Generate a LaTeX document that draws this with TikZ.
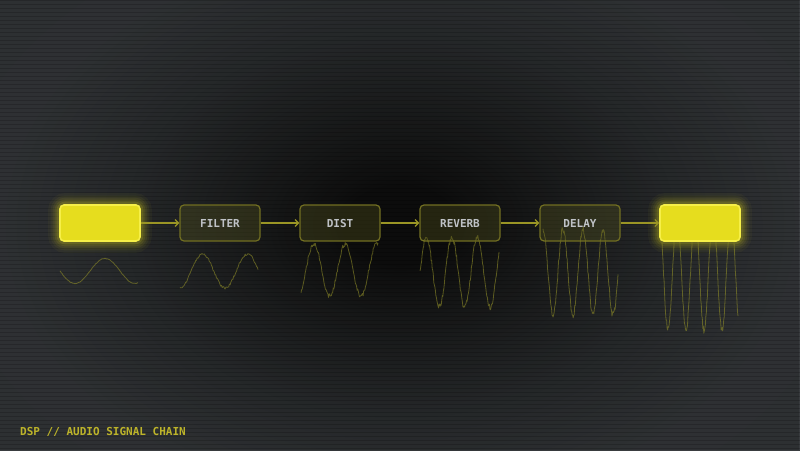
\documentclass[tikz,border=0pt]{standalone}
\usepackage{fontspec}
\newfontfamily\mono{DejaVu Sans Mono}
\usetikzlibrary{arrows.meta,fadings}
\definecolor{bgin}{HTML}{0F0F0F}
\definecolor{bga}{HTML}{1A1B1B}
\definecolor{bgmid}{HTML}{2E3133}
\definecolor{bgout}{HTML}{3A3D40}
\definecolor{bgcorner}{HTML}{393C3F}
\definecolor{hot}{HTML}{E6DD1E}
\definecolor{hotedge}{HTML}{F6EF48}
\definecolor{olive}{HTML}{726F22}
\definecolor{olivefill}{HTML}{5A5A1E}
\definecolor{arrowc}{HTML}{9A9525}
\definecolor{wavec}{HTML}{8C8A28}
\definecolor{labelc}{HTML}{BFC2C6}
\definecolor{titlec}{HTML}{BDB42A}
\pgfdeclareradialshading{bgvig}{\pgfpoint{0bp}{0bp}}{color(0bp)=(bgin); color(2.5bp)=(bgin); color(6bp)=(bga); color(13.5bp)=(bgmid); color(20bp)=(bgout); color(25bp)=(bgcorner); color(50bp)=(bgcorner)}
\tikzfading[name=vband, top color=transparent!80, middle color=transparent!100, bottom color=transparent!80]
\pgfdeclarelayer{background}
\pgfsetlayers{background,main}
\tikzset{
  stage/.style={rounded corners=4pt, minimum width=80pt, minimum height=36pt, inner sep=0pt,
    draw=olive, line width=1.2pt, fill=olivefill, fill opacity=0.32, text opacity=1,
    text=labelc, font=\mono\bfseries\fontsize{11}{13}\selectfont},
  hotbox/.style={rounded corners=4pt, minimum width=80pt, minimum height=36pt, inner sep=0pt,
    draw=hotedge, line width=1.6pt, fill=hot},
  link/.style={draw=arrowc, line width=1.3pt, -{Straight Barb[length=3.5pt,width=7pt,line width=1.2pt]}},
  wave/.style={draw=wavec, line width=0.8pt, line join=round, opacity=0.6},
  glow/.style={draw=hot, rounded corners=6pt}
}
\begin{document}
\begin{tikzpicture}[x=1pt,y=-1pt]
\useasboundingbox (0,0) rectangle (800,450);
\begin{pgfonlayer}{background}
  \clip (0,0) rectangle (800,450);
  \shade[shading=bgvig] (-100,-125) rectangle (900,575);
  \fill[black, path fading=vband] (0,0) rectangle (800,450);
  \foreach \i in {0,...,112}
    \fill[black, opacity=0.17] (0,4*\i) rectangle (800,4*\i+1.3);
\end{pgfonlayer}

% waveforms
\pgfmathsetseed{42}
\draw[wave] plot[domain=60:138, samples=80] (\x, {271 + 12.5*sin(6*(\x-60)) + 0.3*rand});
\draw[wave] plot[domain=180:258, samples=110] (\x, {271 + 17*sin(8*(\x-180) + 90) + 1.2*rand});
\draw[wave] plot[domain=301:378, samples=130] (\x, {270 + 26*sin(11.43*(\x-298) + 90) + 2.2*rand});
\draw[wave] plot[domain=420:499, samples=150] (\x, {272 + 35*sin(14.12*(\x-420) + 180) + 3*rand});
\draw[wave] plot[domain=543:618, samples=150] (\x, {272 + 43*sin(18*(\x-563) + 270) + 3.5*rand});
\draw[wave] plot[domain=662:738, samples=150] (\x, {272 + 58*sin(20*(\x-668) + 90) + 3.5*rand});

% stages
\node[hotbox] (in) at (100,223) {};
\node[stage] (filter) at (220,223) {FILTER};
\node[stage] (dist) at (340,223) {DIST};
\node[stage] (reverb) at (460,223) {REVERB};
\node[stage] (delay) at (580,223) {DELAY};
\node[hotbox] (out) at (700,223) {};

% glow
\begin{pgfonlayer}{background}
  \foreach \n in {in,out}{
    \foreach \w/\o in {22/0.04,17/0.05,13/0.07,9/0.09,5/0.14}
      \draw[glow, line width=\w pt, draw opacity=\o] (\n.south west) rectangle (\n.north east);
  }
\end{pgfonlayer}

% connectors
\draw[link] (in.east) -- (filter.west);
\draw[link] (filter.east) -- (dist.west);
\draw[link] (dist.east) -- (reverb.west);
\draw[link] (reverb.east) -- (delay.west);
\draw[link] (delay.east) -- (out.west);

\node[anchor=base west, inner sep=0pt, text=titlec, font=\mono\bfseries\fontsize{11}{13}\selectfont] (title) at (20,435) {DSP // AUDIO SIGNAL CHAIN};
\end{tikzpicture}
\end{document}
